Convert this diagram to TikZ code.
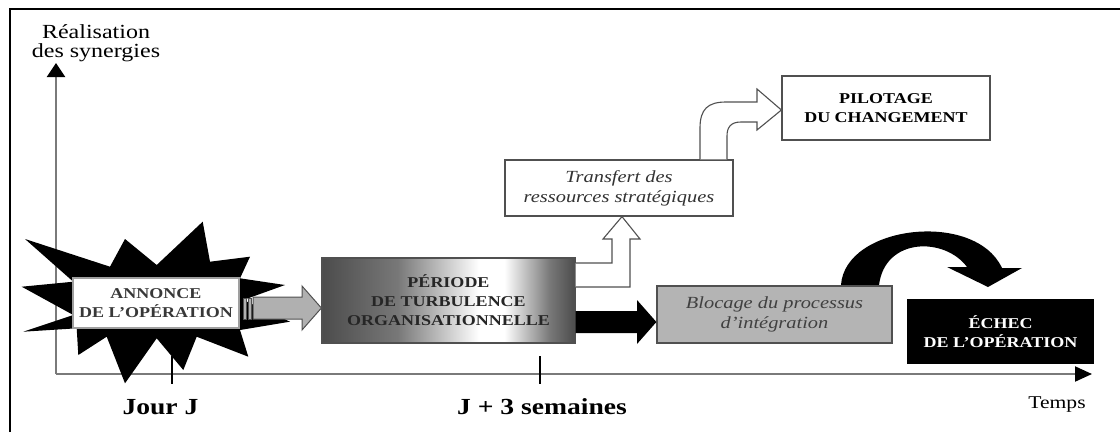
\documentclass[tikz,border=0pt]{standalone}
\usepackage{fontspec}
\setmainfont{Liberation Serif}[FakeStretch=1.2]
\usetikzlibrary{arrows.meta,calc}

\definecolor{boxline}{HTML}{505050}
\definecolor{axisgray}{HTML}{7A7A7A}
\definecolor{tdark}{HTML}{4C4C4C}
\definecolor{tmid}{HTML}{787878}
\definecolor{blockfill}{HTML}{B4B4B4}
\definecolor{arrowfill}{HTML}{B0B0B0}

% horizontal shading of the turbulence box: dark edges, light band right of centre
\pgfdeclarehorizontalshading{turbshade}{100bp}{color(0bp)=(tdark); color(25bp)=(tdark); color(40bp)=(tmid); color(56bp)=(white); color(61bp)=(white); color(70bp)=(tmid); color(75bp)=(tdark); color(100bp)=(tdark)}

\begin{document}
\begin{tikzpicture}[x=1pt,y=-1pt,
  capsbox/.style={draw=boxline, line width=1.2pt, font=\fontsize{15}{19}\selectfont\bfseries, align=center, inner sep=0pt},
  itbox/.style={draw=boxline, line width=1.2pt, font=\fontsize{17}{20}\selectfont\itshape, align=center, inner sep=0pt, text=black!80},
  axisline/.style={draw=axisgray, line width=2pt},
  ticktrait/.style={draw=black, line width=2pt},
  hollowarrow/.style={draw=boxline, line width=1.1pt, fill=white, line join=miter},
]
\useasboundingbox (0,0) rectangle (1120,432);

% page frame (left and top rules)
\draw[line width=2pt] (10,432) -- (10,9) -- (1120,9);

% axes
\coordinate (origin) at (56,374);
\coordinate (ytop) at (56,63);
\coordinate (xend) at (1092,374);
\draw[axisline, -{Triangle[length=14pt,width=18pt,color=black]}] (origin) -- (ytop);
\draw[axisline, -{Triangle[length=17pt,width=15pt,color=black]}] (origin) -- (xend);

\node[font=\fontsize{20}{19.5}\selectfont, align=center] (ylabel) at (96,43) {Réalisation\\des synergies};
\node[font=\fontsize{18}{20}\selectfont, anchor=base] (xlabel) at (1057,408) {Temps};

% explosion shape behind the announcement
\fill[black] (240,330) -- (248.3,356.7) -- (196.7,336.7) -- (183.3,370) -- (156.7,338.3)
  -- (125,383.3) -- (106.7,336.7) -- (78.3,355) -- (76.7,328.3) -- (23.3,331.7)
  -- (73.3,315) -- (21.7,286.7) -- (73.3,281.7) -- (25,239) -- (110,266.7)
  -- (125,239) -- (156.7,265) -- (202.7,221.7) -- (210,261.7) -- (250,256.7)
  -- (240,278.3) -- (285,285) -- (243.3,300) -- (290,321.7) -- cycle;

% time marks
\coordinate (jourj) at (172,356);
\coordinate (jtrois) at (540,356);
\draw[ticktrait] (jourj) -- (172,384);
\draw[ticktrait] (jtrois) -- (540,384);
\node[font=\fontsize{23}{26}\selectfont\bfseries, anchor=base] (ljourj) at (160.5,414) {Jour J};
\node[font=\fontsize{23}{26}\selectfont\bfseries, anchor=base] (ljtrois) at (542,414) {J + 3 semaines};

% boxes
\node[capsbox, fill=white, draw=gray!75, text=black!78, minimum width=166, minimum height=50] (annonce) at (156,303) {ANNONCE\\DE L’OPÉRATION};
\node[capsbox, shading=turbshade, draw=boxline, text=black!85, minimum width=253, minimum height=85] (turb) at (448.5,300.5) {PÉRIODE\\DE TURBULENCE\\ORGANISATIONNELLE};
\node[itbox, fill=white, minimum width=228, minimum height=56] (transfert) at (619,188) {Transfert des\\ressources stratégiques};
\node[capsbox, fill=white, minimum width=208, minimum height=64] (pilot) at (886,108) {PILOTAGE\\DU CHANGEMENT};

% black curved arrow from the blockage to the failure
\fill[black] (841,285) .. controls (845,225) and (975,210) .. (1002,268)
  -- (1022,268) -- (988,287) -- (947,267) -- (967,267)
  .. controls (945,237) and (885,237) .. (879,285) -- cycle;

\node[itbox, fill=blockfill, text=black!75, minimum width=235, minimum height=57] (blocage) at (774.5,314.5) {Blocage du processus\\d’intégration};
\node[capsbox, fill=black, draw=black, text=white, minimum width=185, minimum height=63] (echec) at (1000.5,331.5) {ÉCHEC\\DE L’OPÉRATION};

% striped grey arrow: announcement -> turbulence
\filldraw[fill=arrowfill, draw=boxline, line width=0.8pt] ($(annonce.east)+(4,-5)$) rectangle ($(annonce.east)+(7,16)$);
\filldraw[fill=arrowfill, draw=boxline, line width=0.8pt] ($(annonce.east)+(9,-5)$) rectangle ($(annonce.east)+(12,16)$);
\filldraw[fill=arrowfill, draw=boxline, line width=1pt, line join=miter]
  (253,297) -- (302,297) -- (302,286) -- (turb.west |- 0,308) -- (302,330) -- (302,319) -- (253,319) -- cycle;

% black arrow: turbulence -> blockage
\fill[black] (turb.east |- 0,311) -- (637,311) -- (637,300) -- (blocage.west |- 0,322)
  -- (637,344) -- (637,333) -- (turb.east |- 0,333) -- cycle;

% hollow arrow: turbulence -> transfer of resources
\draw[hollowarrow] (turb.east |- 0,263) -- (612,263) -- (612,239) -- (603,239)
  -- (transfert.south -| 622,0) -- (640,239) -- (630,239) -- (630,287) -- (turb.east |- 0,287);

% hollow curved arrow: transfer -> change management
\draw[hollowarrow] (transfert.north -| 700,0) -- (700,128) .. controls (700,109) and (708,102) .. (726,102)
  -- (757,102) -- (757,89) -- (pilot.west |- 0,110) -- (757,130) -- (757,122) -- (741,122)
  .. controls (731,122) and (727,127) .. (727,136) -- (transfert.north -| 727,0);
\end{tikzpicture}
\end{document}
